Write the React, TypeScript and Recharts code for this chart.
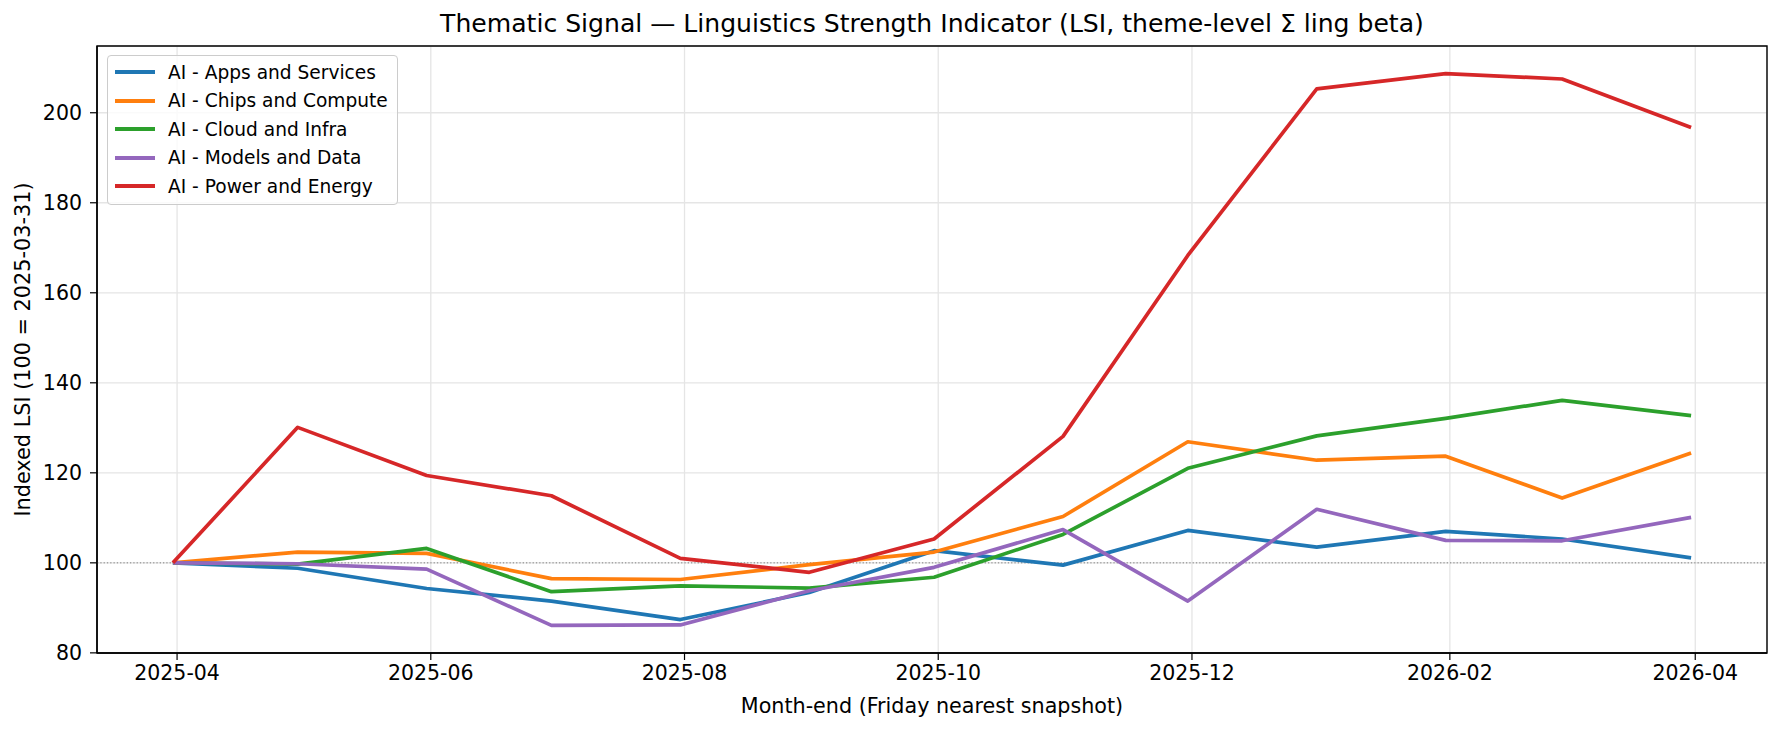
import { LineChart, Line, XAxis, YAxis, CartesianGrid, ReferenceLine, ReferenceArea, Legend, Label } from 'recharts';

const FONT = "'DejaVu Sans', Verdana, sans-serif";

// month-end snapshots
const DATES = [
  '2025-03-31', '2025-04-30', '2025-05-31', '2025-06-30', '2025-07-31', '2025-08-31', '2025-09-30',
  '2025-10-31', '2025-11-30', '2025-12-31', '2026-01-31', '2026-02-28', '2026-03-31',
];

const APPS = [100, 98.8, 94.3, 91.5, 87.4, 93.4, 102.7, 99.5, 107.2, 103.5, 107.0, 105.3, 101.1];
const CHIPS = [100, 102.4, 102.1, 96.5, 96.3, 99.6, 102.4, 110.3, 126.9, 122.8, 123.7, 114.4, 124.4];
const CLOUD = [100, 99.7, 103.2, 93.6, 94.9, 94.4, 96.8, 106.3, 121.0, 128.2, 132.1, 136.1, 132.7];
const MODELS = [100, 99.8, 98.6, 86.1, 86.2, 93.8, 99.0, 107.4, 91.5, 111.9, 105.0, 104.9, 110.1];
const POWER = [100, 130.1, 119.4, 114.9, 101.0, 97.9, 105.3, 128.1, 168.3, 205.3, 208.7, 207.5, 196.7];

const X_TICKS = ['2025-04-01', '2025-06-01', '2025-08-01', '2025-10-01', '2025-12-01', '2026-02-01', '2026-04-01'];
const Y_TICKS = [80, 100, 120, 140, 160, 180, 200];

const SERIES = [
  { key: 'apps', name: 'AI - Apps and Services', color: '#1f77b4', values: APPS },
  { key: 'chips', name: 'AI - Chips and Compute', color: '#ff7f0e', values: CHIPS },
  { key: 'cloud', name: 'AI - Cloud and Infra', color: '#2ca02c', values: CLOUD },
  { key: 'models', name: 'AI - Models and Data', color: '#9467bd', values: MODELS },
  { key: 'power', name: 'AI - Power and Energy', color: '#d62728', values: POWER },
];

const ts = (d: string) => Date.parse(d + 'T00:00:00Z');

const data = DATES.map((d, i) => {
  const row: Record<string, number> = { t: ts(d) };
  SERIES.forEach((s) => { row[s.key] = s.values[i]; });
  return row;
});

// matplotlib-style 5% margins
const tMin = ts(DATES[0]);
const tMax = ts(DATES[DATES.length - 1]);
const X_DOMAIN = [tMin - (tMax - tMin) * 0.05, tMax + (tMax - tMin) * 0.05];
const allVals = SERIES.flatMap((s) => s.values);
const vMin = Math.min(...allVals);
const vMax = Math.max(...allVals);
const Y_DOMAIN = [vMin - (vMax - vMin) * 0.05, vMax + (vMax - vMin) * 0.05];

const fmtMonth = (v: number) => new Date(v).toISOString().slice(0, 7);

const spine = { stroke: '#000', strokeWidth: 1.4 };
const tickStyle = { fill: '#000', fontSize: 20.5, fontFamily: FONT };

function LegendBox() {
  return (
    <div
      style={{
        background: 'rgba(255,255,255,0.8)',
        border: '1.3px solid #cccccc',
        borderRadius: 4,
        padding: '2px 9px 3px 7px',
        fontFamily: FONT,
        fontSize: 18.6,
        color: '#000',
      }}
    >
      {SERIES.map((s) => (
        <div key={s.key} style={{ display: 'flex', alignItems: 'center', height: 28.5 }}>
          <div style={{ width: 40, height: 3.7, background: s.color, marginRight: 13 }} />
          <span style={{ whiteSpace: 'nowrap' }}>{s.name}</span>
        </div>
      ))}
    </div>
  );
}

export default function App() {
  return (
    <div style={{ position: 'relative', width: 1784, height: 732, background: '#fff', fontFamily: FONT }}>
      <style>{'body{margin:0}'}</style>
      <div
        style={{
          position: 'absolute', left: 97, width: 1670, top: 9, textAlign: 'center',
          fontSize: 25.1, lineHeight: '30px', color: '#000', zIndex: 2,
        }}
      >
        Thematic Signal — Linguistics Strength Indicator (LSI, theme-level Σ ling beta)
      </div>
      <LineChart width={1784} height={732} data={data} margin={{ top: 46, right: 17, bottom: 0, left: 0 }}>
        <CartesianGrid stroke="#e5e5e5" strokeWidth={1.3} />
        <XAxis
          dataKey="t" type="number" domain={X_DOMAIN} ticks={X_TICKS.map(ts)} tickFormatter={fmtMonth}
          allowDataOverflow height={79} tickSize={7} tickMargin={5}
          tick={tickStyle} axisLine={spine} tickLine={{ stroke: '#000', strokeWidth: 1.2 }}
        >
          <Label value="Month-end (Friday nearest snapshot)" position="insideBottom" offset={19} fill="#000" fontSize={20.7} fontFamily={FONT} />
        </XAxis>
        <YAxis
          type="number" domain={Y_DOMAIN} ticks={Y_TICKS} allowDataOverflow width={97}
          tickSize={7} tickMargin={8} tick={tickStyle} axisLine={spine} tickLine={{ stroke: '#000', strokeWidth: 1.2 }}
        >
          <Label value="Indexed LSI (100 = 2025-03-31)" angle={-90} position="insideLeft" offset={23}
            style={{ textAnchor: 'middle' }} fill="#000" fontSize={20.8} fontFamily={FONT} />
        </YAxis>
        <ReferenceLine y={100} stroke="#808080" strokeWidth={1} strokeDasharray="1.3 2" />
        {SERIES.map((s) => (
          <Line key={s.key} dataKey={s.key} name={s.name} stroke={s.color} strokeWidth={3.7}
            dot={false} activeDot={false} isAnimationActive={false} strokeLinejoin="round" />
        ))}
        {/* axes frame (top and right spines) */}
        <ReferenceArea x1={X_DOMAIN[0]} x2={X_DOMAIN[1]} y1={Y_DOMAIN[0]} y2={Y_DOMAIN[1]}
          fill="none" fillOpacity={0} stroke="#000" strokeWidth={1.4} ifOverflow="visible" />
        <Legend layout="horizontal" verticalAlign="middle" align="center" content={LegendBox}
          wrapperStyle={{ left: 107, top: 55, width: 'auto', height: 'auto' }} />
      </LineChart>
    </div>
  );
}
